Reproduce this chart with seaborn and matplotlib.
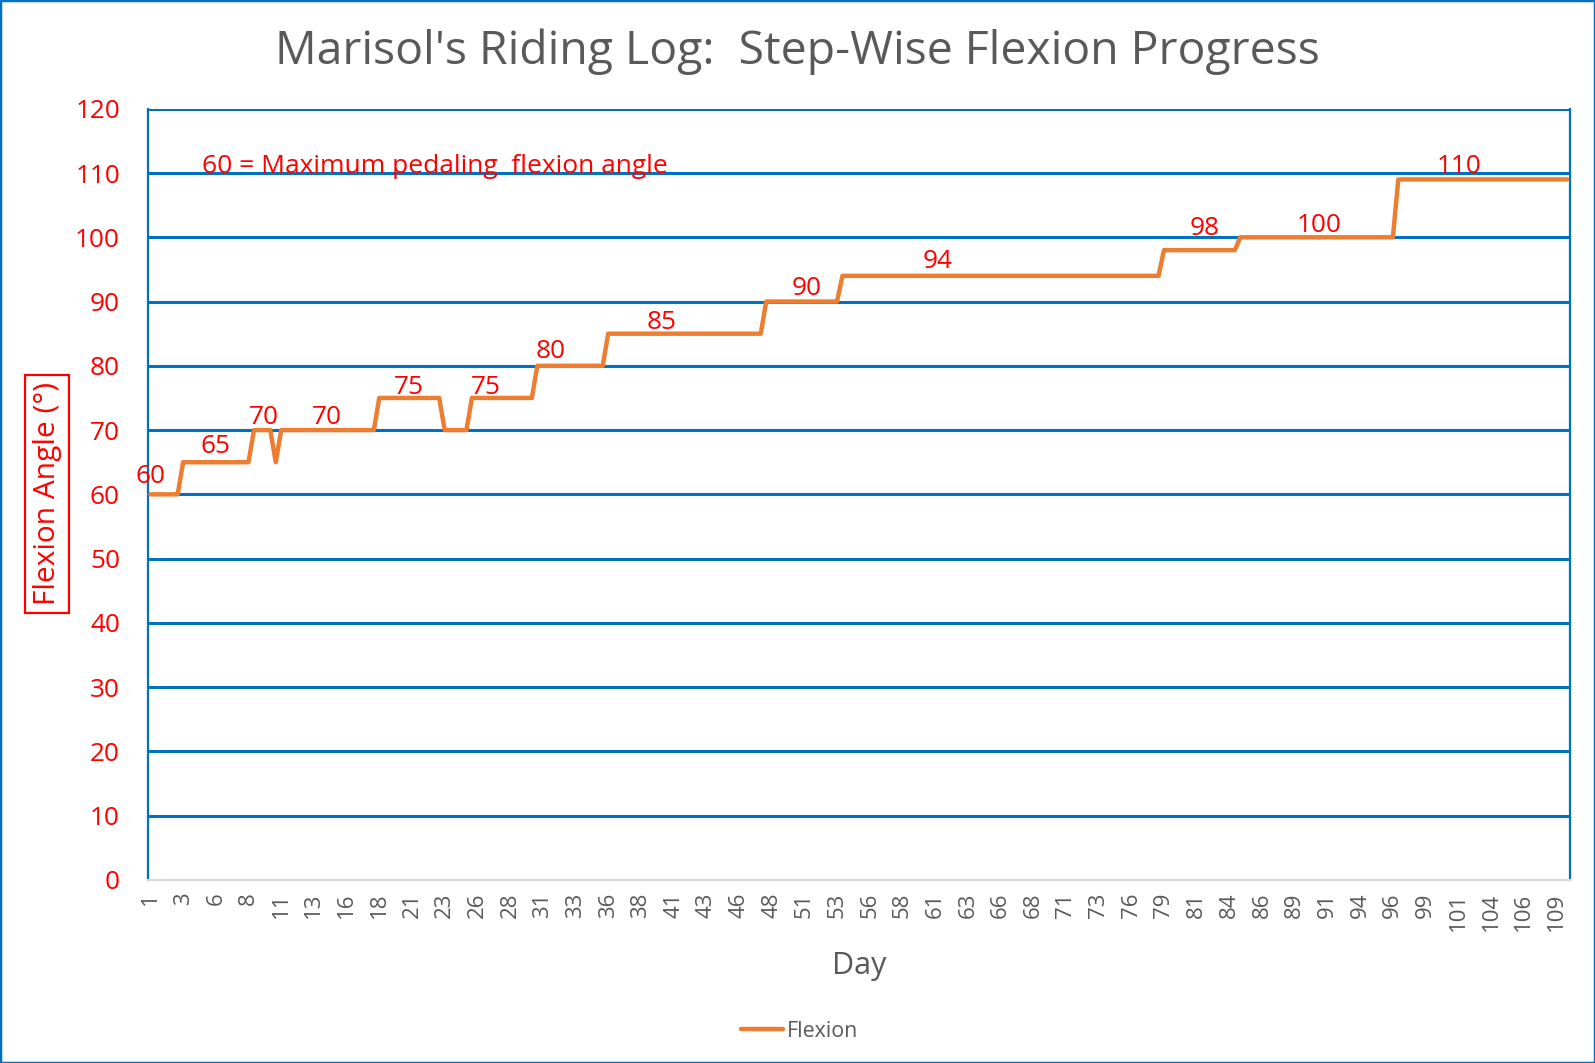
import matplotlib
matplotlib.use("Agg")
import matplotlib.pyplot as plt
import numpy as np
import pandas as pd
import seaborn as sns
from matplotlib.lines import Line2D

# Flexion levels and how many log entries (x categories) each level holds
flex_levels = [60, 65, 70, 65, 70, 75, 70, 75, 80, 85, 90, 94, 98, 100, 109]
flex_counts = [6, 13, 4, 1, 18, 12, 5, 12, 13, 29, 14, 59, 14, 29, 32]

# Day labels shown under every 6th category
day_labels = [1, 3, 6, 8, 11, 13, 16, 18, 21, 23, 26, 28, 31, 33, 36, 38, 41, 43,
              46, 48, 51, 53, 56, 58, 61, 63, 66, 68, 71, 73, 76, 79, 81, 84, 86,
              89, 91, 94, 96, 99, 101, 104, 106, 109]

# Text labels written on the plateaus
plateau_text = ["60", "65", "70", "70", "75", "75", "80", "85", "90", "94",
                "98", "100", "110"]

flexion = np.repeat(flex_levels, flex_counts)
df = pd.DataFrame({"Entry": np.arange(len(flexion)), "Flexion": flexion})

sns.set_style("white")
plt.rcParams["font.family"] = ["Open Sans", "DejaVu Sans"]

RED = "#FF0000"
BLUE = "#0070C0"
GREY = "#595959"
ORANGE = "#ED7D31"

fig, ax = plt.subplots(figsize=(15.95, 10.63), dpi=100)
fig.subplots_adjust(left=0.0926, right=0.9843, bottom=0.1722, top=0.8977)

sns.lineplot(data=df, x="Entry", y="Flexion", color=ORANGE, linewidth=3.2,
             solid_capstyle="round", solid_joinstyle="round", ax=ax,
             legend=False, zorder=4)

ax.set_xlim(-0.5, len(flexion) - 0.5)
ax.set_ylim(0, 120)
ax.set_yticks(range(0, 121, 10))
ax.tick_params(axis="y", colors=RED, labelsize=18.8, length=0, pad=20)
for lab in ax.get_yticklabels():
    lab.set_color(RED)

ax.set_xticks(range(0, 6 * len(day_labels), 6))
ax.set_xticklabels(day_labels, rotation=90, color=GREY, fontsize=16)
ax.set_xticks(range(len(flexion)), minor=True)
ax.tick_params(axis="x", which="both", color="#D9D9D9", length=6, width=1.2,
               direction="out", pad=3)

ax.grid(True, axis="y", color=BLUE, linewidth=2.2, zorder=1)
ax.yaxis.get_gridlines()[0].set_visible(False)
ax.set_axisbelow(True)

for side in ["left", "right"]:
    ax.spines[side].set_color(BLUE)
    ax.spines[side].set_linewidth(1.6)
ax.spines["top"].set_visible(False)
ax.spines["bottom"].set_color("#D9D9D9")
ax.spines["bottom"].set_linewidth(1.5)

ax.set_xlabel("")
ax.set_ylabel("")

# Plateau labels (positions in entry index / degrees)
text_x = [0, 12, 20.9, 32.3, 47.4, 61.6, 73.4, 93.9, 120.4, 144.5, 193.4, 214.5, 240.1]
text_y = [62.8, 67.4, 71.9, 71.9, 76.7, 76.7, 82.2, 86.7, 92.0, 96.3, 101.4, 101.9, 111.0]
for tx, ty, s in zip(text_x, text_y, plateau_text):
    ax.text(tx, ty, s, color=RED, fontsize=18.8, ha="center", va="center", zorder=5)

ax.text(9.4, 111.0, "60 = Maximum pedaling  flexion angle", color=RED,
        fontsize=19, ha="left", va="center", zorder=5)

fig.text(0.5, 0.951, "Marisol's Riding Log:  Step-Wise Flexion Progress",
         color=GREY, fontsize=33.4, ha="center", va="center")
fig.text(0.5389, 0.0908, "Day", color=GREY, fontsize=22, ha="center", va="center")
fig.text(0.0297, 0.5355, "Flexion Angle (°)", color=RED, fontsize=21.5,
         rotation=90, ha="center", va="center",
         bbox=dict(boxstyle="square,pad=0.25", facecolor="white",
                   edgecolor=RED, linewidth=1.6))

handle = Line2D([], [], color=ORANGE, linewidth=3.2, solid_capstyle="round")
fig.legend([handle], ["Flexion"], loc="center", bbox_to_anchor=(0.5013, 0.0298),
           frameon=False, fontsize=15.4, handlelength=1.95, handletextpad=0.15,
           labelcolor=GREY)

fig.add_artist(plt.Rectangle((0, 0), 1, 1, transform=fig.transFigure,
                             fill=False, edgecolor=BLUE, linewidth=2.5))

fig.savefig("out.png", dpi=100)
